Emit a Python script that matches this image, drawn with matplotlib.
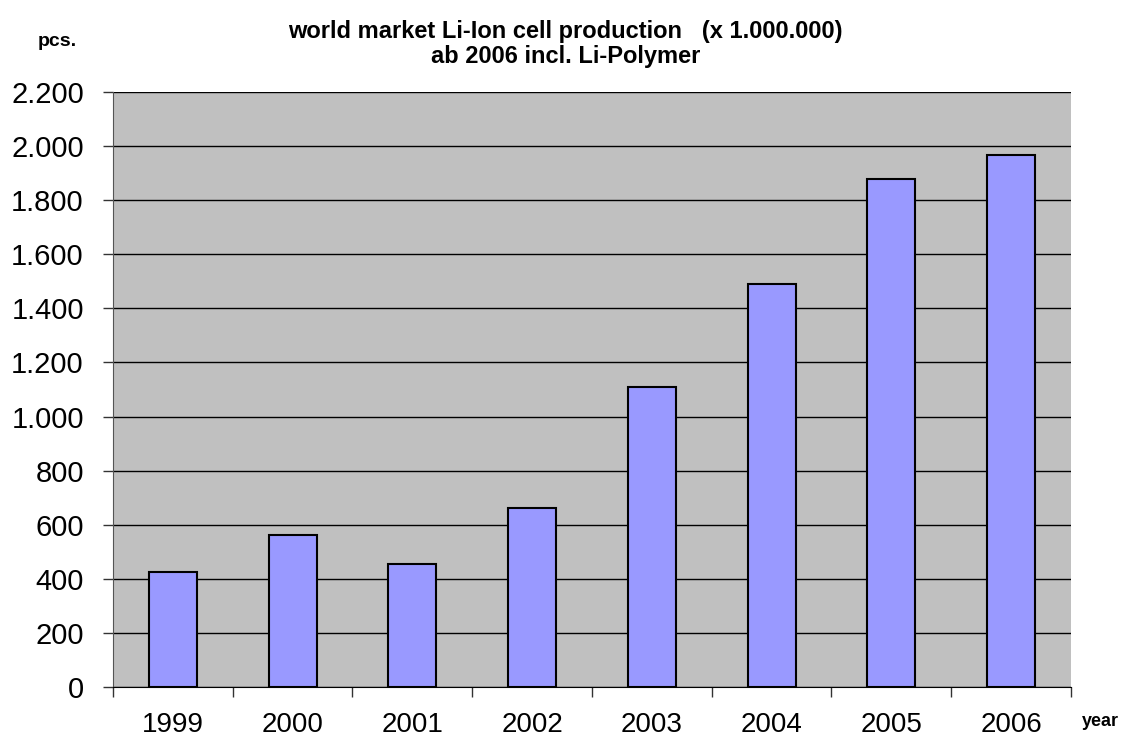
import matplotlib
matplotlib.use("Agg")
from matplotlib import pyplot as plt
from matplotlib.ticker import FuncFormatter, FixedLocator
import numpy as np

plt.rcParams['font.family'] = ['Liberation Sans', 'DejaVu Sans']

# Data (million pieces)
years = ['1999', '2000', '2001', '2002', '2003', '2004', '2005', '2006']
cells = [426, 562, 455, 662, 1110, 1491, 1879, 1966]
y_ticks = [0, 200, 400, 600, 800, 1000, 1200, 1400, 1600, 1800, 2000, 2200]

fig = plt.figure(figsize=(11.22, 7.44), dpi=100)
ax = fig.add_axes([0.1007, 0.0766, 0.8538, 0.7997])

x = np.arange(len(years))
ax.set_facecolor('#C0C0C0')
ax.bar(x, cells, width=0.4, color='#9999FF', edgecolor='black', linewidth=1.5, zorder=3)

ax.set_xlim(-0.5, len(years) - 0.5)
ax.set_ylim(0, 2200)

# Gridlines
ax.set_yticks(y_ticks)
ax.yaxis.grid(True, color='black', linewidth=1.0, zorder=1)
ax.set_axisbelow(True)
ax.yaxis.set_major_formatter(FuncFormatter(lambda v, p: f'{int(v):,}'.replace(',', '.')))

# Category ticks between bars, labels under bars
ax.xaxis.set_major_locator(FixedLocator(np.arange(-0.5, len(years), 1.0)))
ax.xaxis.set_minor_locator(FixedLocator(x))
ax.set_xticklabels([], minor=False)
ax.set_xticklabels(years, minor=True)
ax.tick_params(axis='x', which='major', direction='out', length=7, width=1, color='#333333')
ax.tick_params(axis='x', which='minor', length=0, pad=18, labelsize=20)
ax.tick_params(axis='y', direction='out', length=7, width=1, color='#333333', labelsize=21, pad=14)

ax.spines['top'].set_visible(False)
ax.spines['right'].set_visible(False)
ax.spines['left'].set_color('#555555')
ax.spines['bottom'].set_color('black')

fig.text(0.504, 0.941, 'world market Li-Ion cell production   (x 1.000.000)\nab 2006 incl. Li-Polymer',
         ha='center', va='center', fontsize=17, fontweight='bold', linespacing=1.1)
fig.text(0.051, 0.944, 'pcs.', ha='center', va='center', fontsize=14, fontweight='bold')
fig.text(0.997, 0.03, 'year', ha='right', va='center', fontsize=13, fontweight='bold')

fig.savefig('out.png', dpi=100)
